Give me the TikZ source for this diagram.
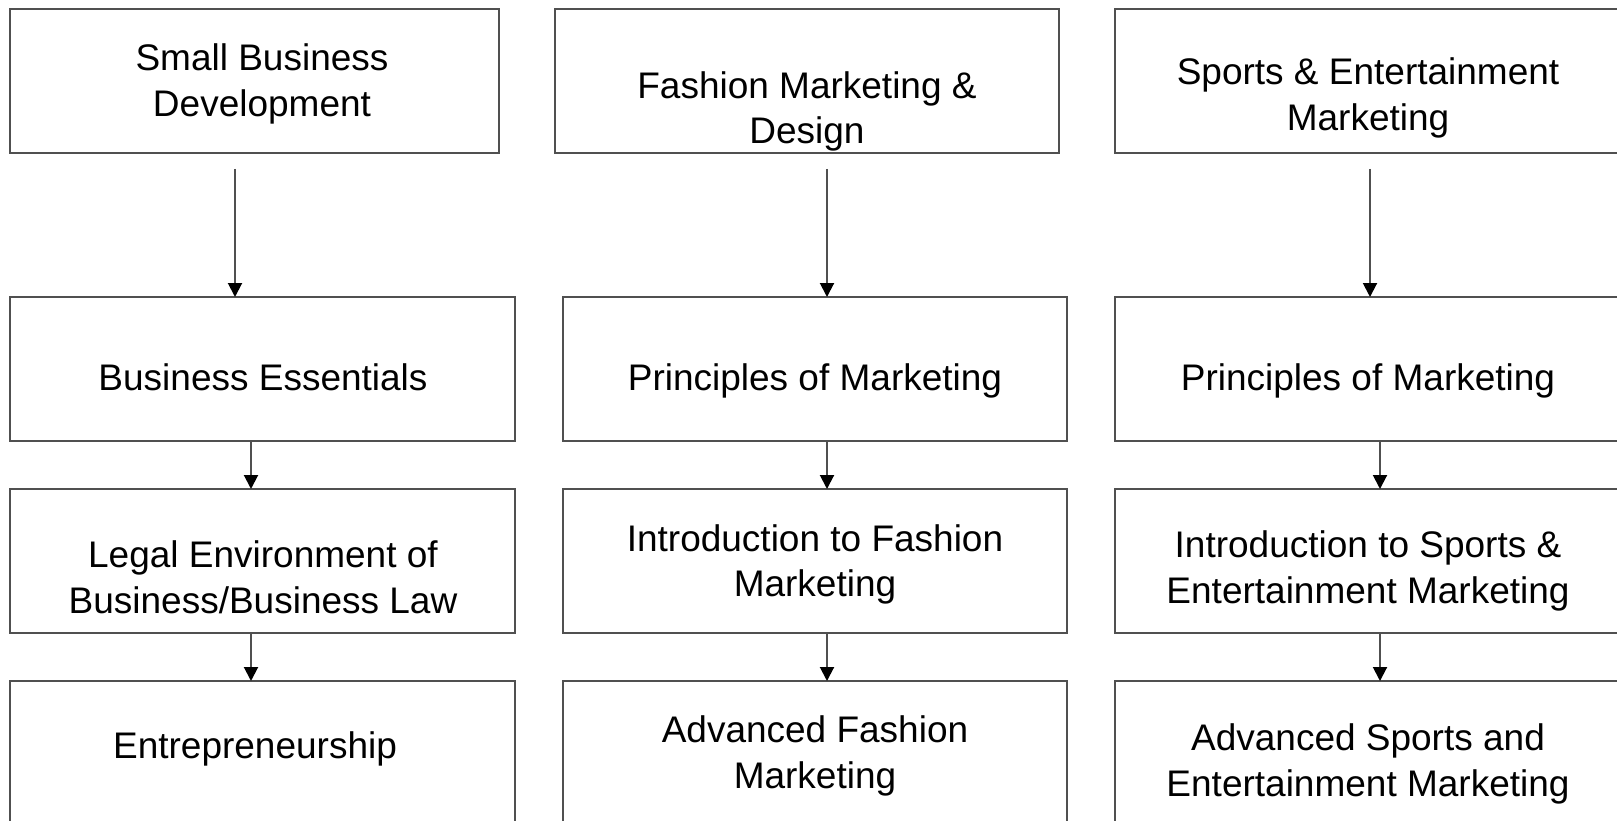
\documentclass[tikz,border=0pt]{standalone}
\usepackage{fontspec}
\setmainfont{Liberation Sans}
\usetikzlibrary{arrows.meta}
\definecolor{ln}{HTML}{505050}
\begin{document}
\begin{tikzpicture}[x=1pt,y=-1pt,
  box/.style={draw=ln,line width=2pt,rectangle,inner sep=0pt,outer sep=0pt,anchor=north west,minimum height=144pt},
  lbl/.style={anchor=base,inner sep=0pt,font=\fontsize{37}{46}\selectfont},
  arr/.style={draw=ln,line width=2pt,-{Triangle[width=14pt,length=14pt,black]}}]
\useasboundingbox (0,0) rectangle (1617,821);
\clip (0,0) rectangle (1617,821);
% column 1
\node[box,minimum width=489pt] (a1) at (10,9) {};
\node[box,minimum width=505pt] (a2) at (10,297) {};
\node[box,minimum width=505pt] (a3) at (10,489) {};
\node[box,minimum width=505pt] (a4) at (10,681) {};
% column 2
\node[box,minimum width=504pt] (b1) at (555,9) {};
\node[box,minimum width=504pt] (b2) at (563,297) {};
\node[box,minimum width=504pt] (b3) at (563,489) {};
\node[box,minimum width=504pt] (b4) at (563,681) {};
% column 3
\node[box,minimum width=506pt] (c1) at (1115,9) {};
\node[box,minimum width=506pt] (c2) at (1115,297) {};
\node[box,minimum width=506pt] (c3) at (1115,489) {};
\node[box,minimum width=506pt] (c4) at (1115,681) {};
% labels
\node[lbl] (ta1a) at (262,71) {Small Business};
\node[lbl] (ta1b) at (262,117) {Development};
\node[lbl] (ta2) at (263,390) {Business Essentials};
\node[lbl] (ta3a) at (263,567) {Legal Environment of};
\node[lbl] (ta3b) at (263,613) {Business/Business Law};
\node[lbl] (ta4) at (255,758) {Entrepreneurship};
\node[lbl] (tb1a) at (807,99) {Fashion Marketing \&};
\node[lbl] (tb1b) at (807,144) {Design};
\node[lbl] (tb2) at (815,390) {Principles of Marketing};
\node[lbl] (tb3a) at (815,551) {Introduction to Fashion};
\node[lbl] (tb3b) at (815,596) {Marketing};
\node[lbl] (tb4a) at (815,742) {Advanced Fashion};
\node[lbl] (tb4b) at (815,788) {Marketing};
\node[lbl] (tc1a) at (1368,85) {Sports \& Entertainment};
\node[lbl] (tc1b) at (1368,131) {Marketing};
\node[lbl] (tc2) at (1368,390) {Principles of Marketing};
\node[lbl] (tc3a) at (1368,557) {Introduction to Sports \&};
\node[lbl] (tc3b) at (1368,603) {Entertainment Marketing};
\node[lbl] (tc4a) at (1368,750) {Advanced Sports and};
\node[lbl] (tc4b) at (1368,796) {Entertainment Marketing};
% arrows
\draw[arr] ([yshift=-16pt]a1.south -| 235,0) -- (a2.north -| 235,0);
\draw[arr] (a2.south -| 251,0) -- (a3.north -| 251,0);
\draw[arr] (a3.south -| 251,0) -- (a4.north -| 251,0);
\draw[arr] ([yshift=-16pt]b1.south -| 827,0) -- (b2.north -| 827,0);
\draw[arr] (b2.south -| 827,0) -- (b3.north -| 827,0);
\draw[arr] (b3.south -| 827,0) -- (b4.north -| 827,0);
\draw[arr] ([yshift=-16pt]c1.south -| 1370,0) -- (c2.north -| 1370,0);
\draw[arr] (c2.south -| 1380,0) -- (c3.north -| 1380,0);
\draw[arr] (c3.south -| 1380,0) -- (c4.north -| 1380,0);
\end{tikzpicture}
\end{document}
